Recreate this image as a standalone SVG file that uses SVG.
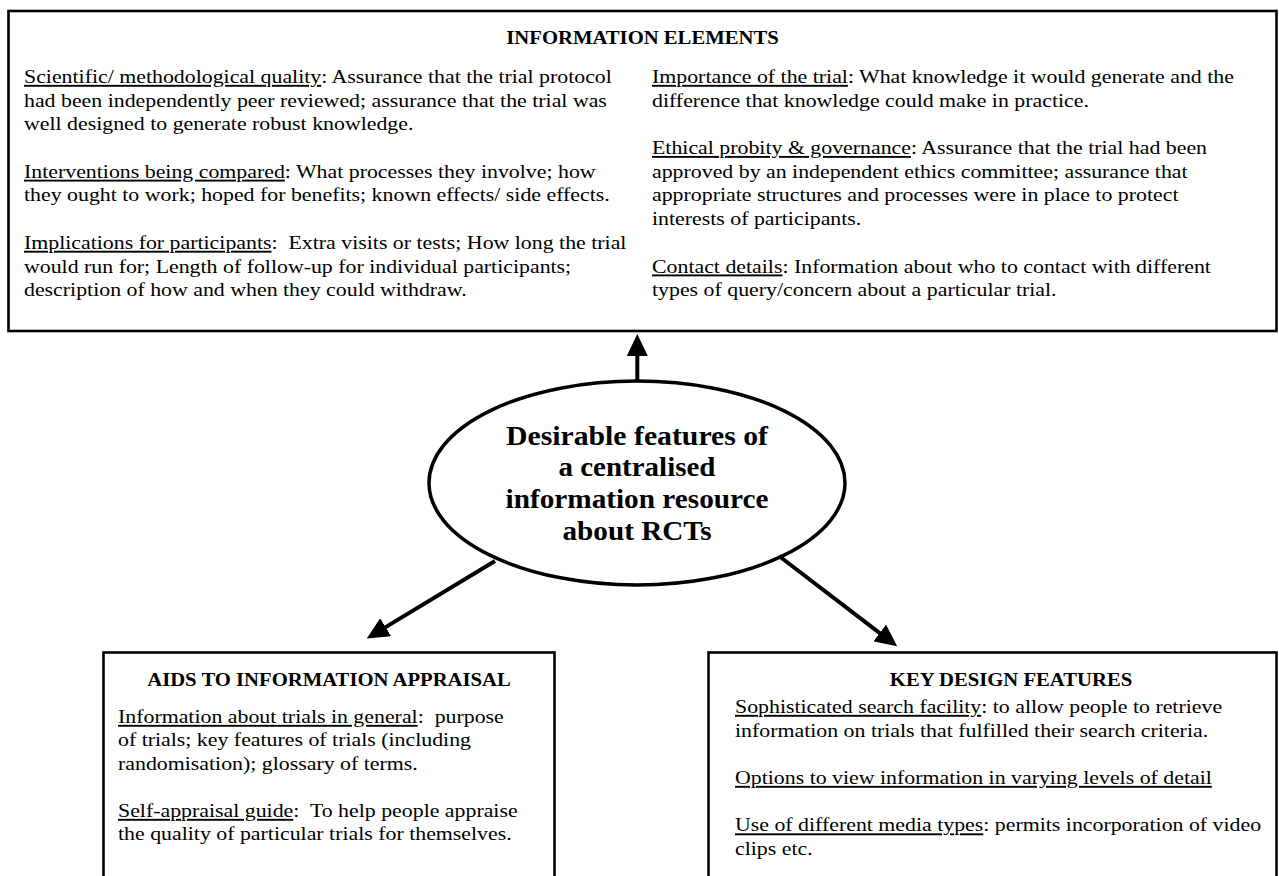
<svg xmlns="http://www.w3.org/2000/svg" width="1279" height="876" viewBox="0 0 1279 876">
<style>
.box{fill:#fff;stroke:#000;stroke-width:2.6}
.t{font-family:"Liberation Serif","Times New Roman",serif;font-size:19px;fill:#000;white-space:pre}
.h{font-family:"Liberation Serif","Times New Roman",serif;font-size:18px;font-weight:bold;fill:#000;text-anchor:middle}
.c{font-family:"Liberation Serif","Times New Roman",serif;font-size:27px;font-weight:bold;fill:#000;text-anchor:middle}
.u{text-decoration:underline;text-decoration-thickness:1.6px;text-underline-offset:2px}
.conn{stroke:#000;stroke-width:4;fill:none}
</style>
<defs>
<marker id="ah" markerUnits="userSpaceOnUse" viewBox="0 0 22 21" markerWidth="22" markerHeight="21" refX="0.5" refY="10.5" orient="auto">
<path d="M0,0 L22,10.5 L0,21 Z" fill="#000"/>
</marker>
</defs>
<rect width="1279" height="876" fill="#fff"/>

<g id="info-elements">
<rect class="box" x="8.5" y="11" width="1268" height="320"/>
<g transform="translate(642.5 0) scale(1.15 1)"><text class="h" x="0" y="44">INFORMATION ELEMENTS</text></g>
<g transform="translate(24 0) scale(1.15 1)">
<text class="t" x="0" y="83"><tspan class="u">Scientific/ methodological quality</tspan>: Assurance that the trial protocol</text>
<text class="t" x="0" y="106.7">had been independently peer reviewed; assurance that the trial was</text>
<text class="t" x="0" y="130.4">well designed to generate robust knowledge.</text>
<text class="t" x="0" y="177.8"><tspan class="u">Interventions being compared</tspan>: What processes they involve; how</text>
<text class="t" x="0" y="201.5">they ought to work; hoped for benefits; known effects/ side effects.</text>
<text class="t" x="0" y="248.9"><tspan class="u">Implications for participants</tspan>:  Extra visits or tests; How long the trial</text>
<text class="t" x="0" y="272.6">would run for; Length of follow-up for individual participants;</text>
<text class="t" x="0" y="296.3">description of how and when they could withdraw.</text>
</g>
<g transform="translate(652 0) scale(1.15 1)">
<text class="t" x="0" y="83"><tspan class="u">Importance of the trial</tspan>: What knowledge it would generate and the</text>
<text class="t" x="0" y="106.7">difference that knowledge could make in practice.</text>
<text class="t" x="0" y="154.1"><tspan class="u">Ethical probity &amp; governance</tspan>: Assurance that the trial had been</text>
<text class="t" x="0" y="177.8">approved by an independent ethics committee; assurance that</text>
<text class="t" x="0" y="201.5">appropriate structures and processes were in place to protect</text>
<text class="t" x="0" y="225.2">interests of participants.</text>
<text class="t" x="0" y="272.6"><tspan class="u">Contact details</tspan>: Information about who to contact with different</text>
<text class="t" x="0" y="296.3">types of query/concern about a particular trial.</text>
</g>
</g>

<g id="center">
<ellipse cx="637" cy="483" rx="208" ry="102" fill="#fff" stroke="#000" stroke-width="3.5"/>
<text class="c" x="637" y="445" textLength="262" lengthAdjust="spacingAndGlyphs">Desirable features of</text>
<text class="c" x="637" y="476" textLength="157" lengthAdjust="spacingAndGlyphs">a centralised</text>
<text class="c" x="637" y="507.5" textLength="263" lengthAdjust="spacingAndGlyphs">information resource</text>
<text class="c" x="637" y="540" textLength="149" lengthAdjust="spacingAndGlyphs">about RCTs</text>
</g>

<g id="aids">
<rect class="box" x="103.5" y="652.5" width="451" height="260"/>
<g transform="translate(329 0) scale(1.15 1)"><text class="h" x="0" y="686">AIDS TO INFORMATION APPRAISAL</text></g>
<g transform="translate(118 0) scale(1.15 1)">
<text class="t" x="0" y="723"><tspan class="u">Information about trials in general</tspan>:  purpose</text>
<text class="t" x="0" y="746.5">of trials; key features of trials (including</text>
<text class="t" x="0" y="770">randomisation); glossary of terms.</text>
<text class="t" x="0" y="817"><tspan class="u">Self-appraisal guide</tspan>:  To help people appraise</text>
<text class="t" x="0" y="840.5">the quality of particular trials for themselves.</text>
</g>
</g>

<g id="key-design">
<rect class="box" x="708.5" y="652.5" width="568" height="260"/>
<g transform="translate(1011 0) scale(1.15 1)"><text class="h" x="0" y="686">KEY DESIGN FEATURES</text></g>
<g transform="translate(735 0) scale(1.15 1)">
<text class="t" x="0" y="713"><tspan class="u">Sophisticated search facility</tspan>: to allow people to retrieve</text>
<text class="t" x="0" y="736.7">information on trials that fulfilled their search criteria.</text>
<text class="t" x="0" y="784"><tspan class="u">Options to view information in varying levels of detail</tspan></text>
<text class="t" x="0" y="831.5"><tspan class="u">Use of different media types</tspan>: permits incorporation of video</text>
<text class="t" x="0" y="855.2">clips etc.</text>
</g>
</g>

<g id="connectors">
<line class="conn" x1="637.3" y1="381" x2="637.3" y2="355.5" marker-end="url(#ah)"/>
<line class="conn" x1="495" y1="561" x2="385.2" y2="627.4" marker-end="url(#ah)"/>
<line class="conn" x1="779" y1="556" x2="880.1" y2="633.3" marker-end="url(#ah)"/>
</g>
</svg>
